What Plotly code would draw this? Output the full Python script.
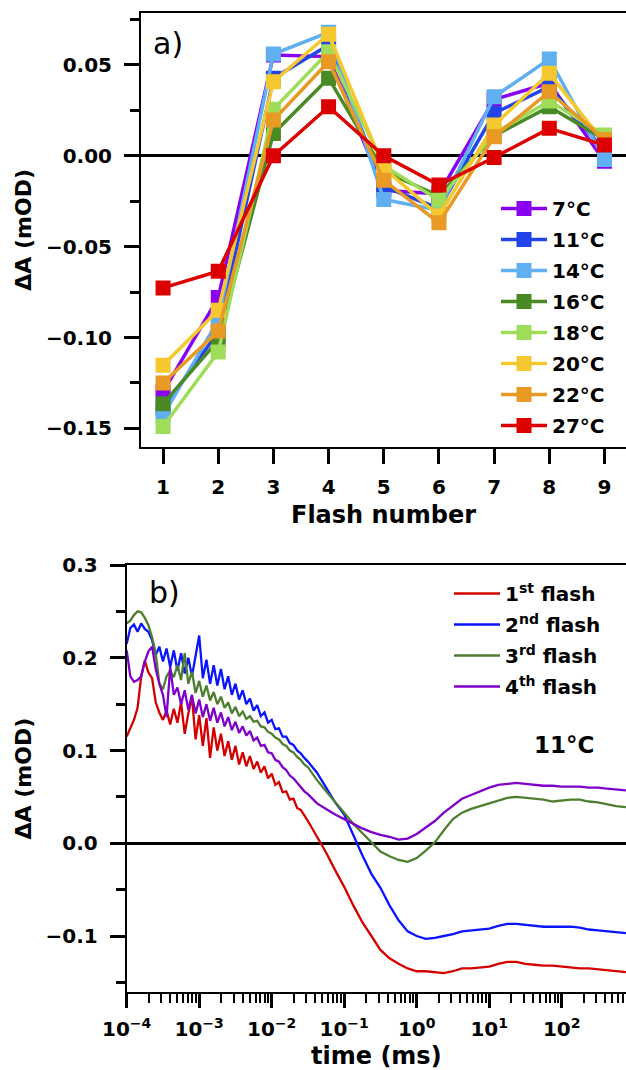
import plotly.graph_objects as go

# ---------------- panel a) data ----------------
flash_number = [1, 2, 3, 4, 5, 6, 7, 8, 9]
temp_labels = ["7°C", "11°C", "14°C", "16°C", "18°C", "20°C", "22°C", "27°C"]
dA_7C  = [-0.130, -0.078, 0.0555, 0.0546, -0.019, -0.021, 0.031, 0.040, -0.003]
dA_11C = [-0.139, -0.097, 0.0427, 0.061, -0.017, -0.029, 0.0234, 0.038, 0.003]
dA_14C = [-0.143, -0.0905, 0.056, 0.068, -0.024, -0.030, 0.0325, 0.0533, -0.002]
dA_16C = [-0.1364, -0.1016, 0.0123, 0.0427, -0.0085, -0.022, 0.011, 0.027, 0.009]
dA_18C = [-0.149, -0.108, 0.0256, 0.0573, -0.0055, -0.0244, 0.0123, 0.0302, 0.0114]
dA_20C = [-0.1153, -0.085, 0.0408, 0.0669, -0.0068, -0.033, 0.0169, 0.0454, 0.007]
dA_22C = [-0.125, -0.0964, 0.0197, 0.0518, -0.0134, -0.0369, 0.0105, 0.0353, 0.009]
dA_27C = [-0.0727, -0.0635, 0.0, 0.027, 0.0, -0.0161, -0.0009, 0.0151, 0.0059]
temp_colors = ["#8a00f0", "#2244e8", "#60aff0", "#4a8a25", "#9edc5a", "#f4c82e", "#e89a25", "#dd0000"]

# ---------------- panel b) data ----------------
time_ms = [
    1.000e-4, 1.122e-4, 1.259e-4, 1.413e-4, 1.585e-4, 1.778e-4, 1.995e-4, 2.239e-4, 2.512e-4, 2.818e-4,
    3.162e-4, 3.548e-4, 3.981e-4, 4.467e-4, 5.012e-4, 5.623e-4, 6.310e-4, 7.079e-4, 7.943e-4, 8.913e-4,
    1.000e-3, 1.122e-3, 1.259e-3, 1.413e-3, 1.585e-3, 1.778e-3, 1.995e-3, 2.239e-3, 2.512e-3, 2.818e-3,
    3.162e-3, 3.548e-3, 3.981e-3, 4.467e-3, 5.012e-3, 5.623e-3, 6.310e-3, 7.079e-3, 7.943e-3, 8.913e-3,
    1.000e-2, 1.122e-2, 1.259e-2, 1.413e-2, 1.585e-2, 1.778e-2, 1.995e-2, 2.239e-2, 2.512e-2, 2.818e-2,
    3.162e-2,
    4.217e-2, 5.623e-2, 7.499e-2, 0.1, 0.1334, 0.1778, 0.2371, 0.3162, 0.4217, 0.5623, 0.7499,
    1.0, 1.334, 1.778, 2.371, 3.162, 4.217, 5.623, 7.499, 10.0, 13.34, 17.78, 23.71, 31.62, 42.17,
    56.23, 74.99, 100.0, 133.4, 177.8, 237.1, 316.2, 421.7, 562.3, 770.0,
]
flash1 = [
    0.115, 0.124, 0.133, 0.146, 0.180, 0.197, 0.184, 0.178, 0.152, 0.141,
    0.133, 0.143, 0.128, 0.145, 0.130, 0.152, 0.118, 0.140, 0.158, 0.112,
    0.138, 0.105, 0.135, 0.092, 0.125, 0.100, 0.118, 0.094, 0.110, 0.090,
    0.105, 0.085, 0.098, 0.083, 0.094, 0.080, 0.088, 0.076, 0.083, 0.070,
    0.075, 0.063, 0.066, 0.055, 0.056, 0.047, 0.048, 0.038, 0.036, 0.030,
    0.024,
    0.007, -0.010, -0.029, -0.047, -0.067, -0.085, -0.100, -0.115, -0.124, -0.130, -0.135,
    -0.138, -0.138, -0.139, -0.140, -0.138, -0.135, -0.135, -0.134, -0.133, -0.130, -0.128,
    -0.128, -0.130, -0.131, -0.132, -0.132, -0.133, -0.134, -0.135, -0.135, -0.136, -0.137,
    -0.138, -0.139,
]
flash2 = [
    0.215, 0.232, 0.236, 0.228, 0.237, 0.231, 0.228, 0.219, 0.203, 0.212,
    0.196, 0.210, 0.190, 0.208, 0.186, 0.205, 0.183, 0.200, 0.180, 0.204,
    0.224, 0.178, 0.198, 0.172, 0.192, 0.170, 0.188, 0.166, 0.180, 0.160,
    0.172, 0.155, 0.165, 0.150, 0.156, 0.143, 0.149, 0.137, 0.141, 0.130,
    0.133, 0.123, 0.124, 0.115, 0.115, 0.108, 0.106, 0.100, 0.097, 0.092,
    0.088,
    0.076, 0.060, 0.044, 0.031, 0.008, -0.013, -0.033, -0.048, -0.067, -0.083, -0.095,
    -0.100, -0.103, -0.102, -0.100, -0.098, -0.095, -0.094, -0.093, -0.092, -0.089, -0.087,
    -0.087, -0.088, -0.089, -0.090, -0.090, -0.090, -0.090, -0.091, -0.093, -0.094, -0.095,
    -0.096, -0.097,
]
flash3 = [
    0.237, 0.240, 0.246, 0.250, 0.249, 0.243, 0.235, 0.222, 0.205, 0.172,
    0.166, 0.180, 0.186, 0.179, 0.192, 0.176, 0.205, 0.172, 0.185, 0.162,
    0.175, 0.158, 0.170, 0.154, 0.163, 0.150, 0.158, 0.146, 0.152, 0.140,
    0.147, 0.137, 0.142, 0.134, 0.137, 0.131, 0.132, 0.126, 0.125, 0.120,
    0.118, 0.114, 0.112, 0.107, 0.105, 0.100, 0.098, 0.093, 0.090, 0.085,
    0.082,
    0.068, 0.056, 0.045, 0.033, 0.021, 0.011, 0.001, -0.009, -0.014, -0.018, -0.020,
    -0.016, -0.008, 0.001, 0.014, 0.026, 0.033, 0.037, 0.040, 0.043, 0.046, 0.049,
    0.050, 0.049, 0.048, 0.047, 0.045, 0.046, 0.047, 0.047, 0.045, 0.044, 0.042,
    0.040, 0.039,
]
flash4 = [
    0.208, 0.180, 0.174, 0.176, 0.180, 0.196, 0.207, 0.212, 0.188, 0.172,
    0.160, 0.136, 0.190, 0.160, 0.168, 0.150, 0.165, 0.144, 0.160, 0.140,
    0.155, 0.136, 0.150, 0.132, 0.146, 0.130, 0.141, 0.126, 0.136, 0.122,
    0.131, 0.119, 0.126, 0.116, 0.121, 0.111, 0.114, 0.105, 0.106, 0.098,
    0.097, 0.090, 0.088, 0.082, 0.079, 0.073, 0.070, 0.065, 0.061, 0.056,
    0.053,
    0.043, 0.037, 0.031, 0.026, 0.021, 0.016, 0.012, 0.009, 0.007, 0.004, 0.005,
    0.010, 0.017, 0.024, 0.033, 0.041, 0.048, 0.052, 0.056, 0.060, 0.063, 0.064,
    0.065, 0.064, 0.063, 0.062, 0.062, 0.061, 0.061, 0.061, 0.060, 0.060, 0.059,
    0.058, 0.057,
]
flash_labels = ["1<sup>st</sup> flash", "2<sup>nd</sup> flash", "3<sup>rd</sup> flash", "4<sup>th</sup> flash"]
flash_colors = ["#d40000", "#0a14ff", "#4e7f30", "#7f00c8"]

time_tickvals = [1e-4, 1e-3, 1e-2, 1e-1, 1e0, 1e1, 1e2]
time_ticktext = ["10<sup>−4</sup>", "10<sup>−3</sup>", "10<sup>−2</sup>", "10<sup>−1</sup>",
                 "10<sup>0</sup>", "10<sup>1</sup>", "10<sup>2</sup>"]
time_minor = [m * 10.0 ** k for k in range(-4, 3) for m in range(2, 10)]

W, H = 626, 1070
FONT = "DejaVu Sans"

fig = go.Figure()

series_a = [dA_7C, dA_11C, dA_14C, dA_16C, dA_18C, dA_20C, dA_22C, dA_27C]
for i, (lab, vals, col) in enumerate(zip(temp_labels, series_a, temp_colors)):
    fig.add_trace(go.Scatter(
        x=flash_number, y=vals, name=lab, mode="lines+markers",
        line=dict(color=col, width=3.5),
        marker=dict(symbol="square", size=15, color=col),
        xaxis="x", yaxis="y", legend="legend", legendgroup=f"a{i}",
    ))

series_b = [flash1, flash2, flash3, flash4]
for i, (lab, vals, col) in enumerate(zip(flash_labels, series_b, flash_colors)):
    fig.add_trace(go.Scatter(
        x=time_ms, y=vals, name=lab, mode="lines",
        line=dict(color=col, width=2.3),
        xaxis="x2", yaxis="y2", legend="legend2", legendgroup=f"b{i}",
    ))

tickfont = dict(family=FONT, size=20, color="black", weight="bold")
titlefont = dict(family=FONT, size=24, color="black", weight="bold")

# pixel geometry
a_left, a_top, a_bottom = 141, 13, 446.7
b_left, b_top, b_bottom = 126.7, 565, 992.3

fig.update_layout(
    width=W, height=H,
    margin=dict(l=0, r=0, t=0, b=0, autoexpand=False),
    paper_bgcolor="white", plot_bgcolor="white",
    showlegend=True,
    xaxis=dict(
        domain=[a_left / W, 1.0], anchor="y", automargin=False,
        range=[0.6, 9.39], tickvals=flash_number,
        showline=True, linecolor="black", linewidth=2, mirror=True,
        ticks="outside", ticklen=15, tickwidth=3, tickcolor="black",
        ticklabelstandoff=6,
        showgrid=False, zeroline=False, tickfont=tickfont,
        title=dict(text="Flash number", font=titlefont, standoff=8),
    ),
    yaxis=dict(
        domain=[1 - a_bottom / H, 1 - a_top / H], anchor="x", automargin=False,
        range=[-0.1601, 0.0786],
        tickvals=[-0.15, -0.10, -0.05, 0.0, 0.05], tickformat=".2f",
        minor=dict(tickvals=[-0.125, -0.075, -0.025, 0.025, 0.075], ticks="outside",
                   ticklen=9, tickwidth=3, tickcolor="black", showgrid=False),
        showline=True, linecolor="black", linewidth=2,
        ticks="outside", ticklen=15, tickwidth=3, tickcolor="black",
        ticklabelstandoff=8,
        showgrid=False, zeroline=True, zerolinecolor="black", zerolinewidth=3,
        tickfont=tickfont,
        title=dict(text="ΔA (mOD)", font=dict(family=FONT, size=22, color="black", weight="bold"), standoff=8),
    ),
    xaxis2=dict(
        domain=[b_left / W, 1.0], anchor="y2", type="log", automargin=False,
        range=[-4, 2.887], tickvals=time_tickvals, ticktext=time_ticktext,
        minor=dict(tickvals=time_minor, ticks="outside", ticklen=9, tickwidth=2,
                   tickcolor="black", showgrid=False),
        showline=True, linecolor="black", linewidth=2, mirror=True,
        ticks="outside", ticklen=14, tickwidth=3, tickcolor="black",
        ticklabelstandoff=4,
        showgrid=False, zeroline=False, tickfont=tickfont,
        title=dict(text="time (ms)", font=titlefont, standoff=9),
    ),
    yaxis2=dict(
        domain=[1 - b_bottom / H, 1 - b_top / H], anchor="x2", automargin=False,
        range=[-0.1607, 0.3],
        tickvals=[-0.1, 0.0, 0.1, 0.2, 0.3], tickformat=".1f",
        minor=dict(tickvals=[-0.15, -0.05, 0.05, 0.15, 0.25], ticks="outside",
                   ticklen=9, tickwidth=3, tickcolor="black", showgrid=False),
        showline=True, linecolor="black", linewidth=2,
        ticks="outside", ticklen=15, tickwidth=3, tickcolor="black",
        ticklabelstandoff=8,
        showgrid=False, zeroline=True, zerolinecolor="black", zerolinewidth=3,
        tickfont=tickfont,
        title=dict(text="ΔA (mOD)", font=dict(family=FONT, size=22, color="black", weight="bold"), standoff=8),
    ),
    legend=dict(
        x=496 / W, y=1 - 189 / H, xanchor="left", yanchor="top",
        bgcolor="rgba(255,255,255,0)", borderwidth=0,
        font=dict(family=FONT, size=20, color="black", weight="bold"),
        itemwidth=46, tracegroupgap=2,
    ),
    legend2=dict(
        x=449 / W, y=1 - 574 / H, xanchor="left", yanchor="top",
        bgcolor="rgba(255,255,255,0)", borderwidth=0,
        font=dict(family=FONT, size=20, color="black", weight="bold"),
        itemwidth=46, tracegroupgap=2,
    ),
    annotations=[
        dict(text="a)", xref="paper", yref="paper", x=151 / W, y=1 - 43 / H,
             xanchor="left", yanchor="middle", showarrow=False,
             font=dict(family=FONT, size=30, color="black")),
        dict(text="b)", xref="paper", yref="paper", x=147 / W, y=1 - 592 / H,
             xanchor="left", yanchor="middle", showarrow=False,
             font=dict(family=FONT, size=30, color="black")),
        dict(text="11°C", xref="paper", yref="paper", x=564 / W, y=1 - 745 / H,
             xanchor="center", yanchor="middle", showarrow=False,
             font=dict(family=FONT, size=23, color="black", weight="bold")),
    ],
)

fig.write_html(
    "out.html",
    config={"displayModeBar": False},
    post_script="document.body.style.margin='0';document.body.style.overflow='hidden';",
)
